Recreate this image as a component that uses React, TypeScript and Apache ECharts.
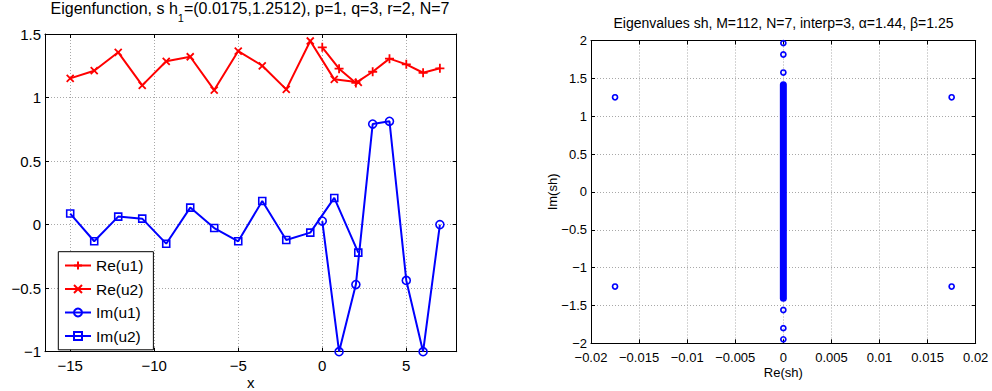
import React, { useEffect, useRef } from 'react';
import * as echarts from 'echarts';

// ---------- Left plot data ----------
const xU1 = [0, 1, 2, 3, 4, 5, 6, 7];
const reU1 = [1.395, 1.227, 1.115, 1.203, 1.306, 1.261, 1.195, 1.23];
const imU1 = [0.028, -1.0, -0.472, 0.791, 0.813, -0.439, -1.0, 0.0];
const xU2 = [-15, -13.571, -12.143, -10.714, -9.286, -7.857, -6.429, -5, -3.571, -2.143, -0.714, 0.714, 2.143];
const reU2 = [1.151, 1.211, 1.356, 1.096, 1.285, 1.321, 1.059, 1.366, 1.25, 1.064, 1.445, 1.143, 1.12];
const imU2 = [0.087, -0.131, 0.063, 0.047, -0.15, 0.134, -0.027, -0.131, 0.186, -0.121, -0.063, 0.21, -0.22];
const leftXTicks = [-15, -10, -5, 0, 5];
const leftYTicks = [-1, -0.5, 0, 0.5, 1, 1.5];

// ---------- Right plot data ----------
const reSh = [-0.0175, 0.0175, -0.0175, 0.0175, 0, 0, 0, 0, 0, 0];
const imSh = [1.25, 1.25, -1.25, -1.25, 1.966, 1.815, 1.577, -1.56, -1.8, -1.947];
// dense cluster of eigenvalues on the imaginary axis (extent)
const bandRe = [0, 0];
const bandIm = [-1.405, 1.414];
const rightXTicks = [-0.02, -0.015, -0.01, -0.005, 0, 0.005, 0.01, 0.015, 0.02];
const rightYTicks = [-2, -1.5, -1, -0.5, 0, 0.5, 1, 1.5, 2];

const FONT = 'Liberation Sans, Arial, Helvetica, sans-serif';
const RED = '#ff0000';
const BLUE = '#0000ff';

const fmt = (v: number) => (v < 0 ? '\u2212' + String(Math.abs(v)) : String(v));

const zip = (xs: number[], ys: number[]) => xs.map((x, i) => [x, ys[i]]);

function axis(opts: {
  dim: 'x' | 'y';
  grid: number;
  min: number;
  max: number;
  ticks: number[];
  mirror?: boolean;
  fontSize: number;
  margin: number;
  lineHeight?: number;
  name?: string;
  nameGap?: number;
}) {
  const { dim, grid, min, max, ticks, mirror, fontSize, margin, lineHeight, name, nameGap } = opts;
  return {
    type: 'value',
    gridIndex: grid,
    position: dim === 'x' ? (mirror ? 'top' : 'bottom') : mirror ? 'right' : 'left',
    min,
    max,
    name: name || '',
    nameLocation: 'middle',
    nameGap: nameGap || 0,
    nameMoveOverlap: false,
    nameTextStyle: { fontFamily: FONT, fontSize, color: '#000' },
    axisLine: { show: true, onZero: false, lineStyle: { color: '#000', width: 1 } },
    axisTick: { show: true, inside: true, length: 4, customValues: ticks, lineStyle: { color: '#000' } },
    axisLabel: {
      show: !mirror,
      customValues: ticks,
      formatter: fmt,
      fontFamily: FONT,
      fontSize,
      lineHeight: lineHeight || fontSize,
      color: '#000',
      margin,
    },
    splitLine: mirror
      ? { show: false }
      : { show: true, lineStyle: { color: '#a8a8a8', type: [1, 2], width: 1 } },
  };
}

export default function App() {
  const ref = useRef<HTMLDivElement>(null);
  useEffect(() => {
    if (!ref.current) return;
    const chart = echarts.init(ref.current, undefined, { renderer: 'svg' });
    const option: any = {
      animation: false,
      backgroundColor: '#fff',
      grid: [
        { left: 45, top: 34, width: 411.7, height: 317.7, outerBoundsMode: 'none', containLabel: false },
        { left: 591, top: 40.5, width: 384.7, height: 302.8, outerBoundsMode: 'none', containLabel: false },
      ],
      xAxis: [
        axis({ dim: 'x', grid: 0, min: -16.5, max: 8, ticks: leftXTicks, fontSize: 15, margin: 6, name: 'x', nameGap: 23 }),
        axis({ dim: 'x', grid: 0, min: -16.5, max: 8, ticks: leftXTicks, fontSize: 15, margin: 6, mirror: true }),
        axis({ dim: 'x', grid: 1, min: -0.02, max: 0.02, ticks: rightXTicks, fontSize: 13, margin: 9, lineHeight: 11, name: 'Re(sh)', nameGap: 22.5 }),
        axis({ dim: 'x', grid: 1, min: -0.02, max: 0.02, ticks: rightXTicks, fontSize: 13, margin: 9, mirror: true }),
      ],
      yAxis: [
        axis({ dim: 'y', grid: 0, min: -1, max: 1.5, ticks: leftYTicks, fontSize: 15, margin: 4 }),
        axis({ dim: 'y', grid: 0, min: -1, max: 1.5, ticks: leftYTicks, fontSize: 15, margin: 4, mirror: true }),
        axis({ dim: 'y', grid: 1, min: -2, max: 2, ticks: rightYTicks, fontSize: 13, margin: 4, lineHeight: 10, name: 'Im(sh)', nameGap: 32 }),
        axis({ dim: 'y', grid: 1, min: -2, max: 2, ticks: rightYTicks, fontSize: 13, margin: 4, mirror: true }),
      ],
      legend: {
        orient: 'vertical',
        left: 58.3,
        top: 251.7,
        padding: [5.8, 10, 5.8, 5.7],
        itemWidth: 26,
        itemHeight: 10,
        itemGap: 7.5,
        backgroundColor: '#fff',
        borderColor: '#000',
        borderWidth: 1,
        borderRadius: 0,
        textStyle: { fontFamily: FONT, fontSize: 15.5, color: '#000' },
        data: ['Re(u1)', 'Re(u2)', 'Im(u1)', 'Im(u2)'],
      },
      graphic: [
        {
          type: 'text',
          x: 250,
          y: 0,
          style: {
            text: '{a|Eigenfunction, s h}{s|1}{a|=(0.0175,1.2512), p=1, q=3, r=2, N=7}',
            align: 'center',
            textAlign: 'center',
            verticalAlign: 'top',
            textVerticalAlign: 'top',
            fill: '#000',
            rich: {
              a: { fontFamily: FONT, fontSize: 16, lineHeight: 16, verticalAlign: 'top', fill: '#000' },
              s: { fontFamily: FONT, fontSize: 11, lineHeight: 11, verticalAlign: 'top', padding: [12, 0, 0, 0], fill: '#000' },
            },
          },
        },
        {
          type: 'text',
          x: 783.5,
          y: 16,
          style: {
            text: 'Eigenvalues sh, M=112, N=7, interp=3, \u03b1=1.44, \u03b2=1.25',
            align: 'center',
            textAlign: 'center',
            verticalAlign: 'top',
            textVerticalAlign: 'top',
            font: `14px ${FONT}`,
            fill: '#000',
          },
        },
      ],
      series: [
        {
          name: 'Re(u1)',
          type: 'line',
          xAxisIndex: 0,
          yAxisIndex: 0,
          data: zip(xU1, reU1),
          symbol: 'path://M0,5L10,5M5,0L5,10',
          symbolSize: 9,
          showAllSymbol: true,
          lineStyle: { color: RED, width: 2 },
          itemStyle: { color: RED, borderColor: RED, borderWidth: 1.8 },
        },
        {
          name: 'Re(u2)',
          type: 'line',
          xAxisIndex: 0,
          yAxisIndex: 0,
          data: zip(xU2, reU2),
          symbol: 'path://M0,0L10,10M10,0L0,10',
          symbolSize: 7,
          showAllSymbol: true,
          lineStyle: { color: RED, width: 2 },
          itemStyle: { color: RED, borderColor: RED, borderWidth: 1.8 },
        },
        {
          name: 'Im(u1)',
          type: 'line',
          xAxisIndex: 0,
          yAxisIndex: 0,
          data: zip(xU1, imU1),
          symbol: 'circle',
          symbolSize: 8,
          showAllSymbol: true,
          lineStyle: { color: BLUE, width: 2 },
          itemStyle: { color: 'rgba(0,0,0,0)', borderColor: BLUE, borderWidth: 1.6 },
        },
        {
          name: 'Im(u2)',
          type: 'line',
          xAxisIndex: 0,
          yAxisIndex: 0,
          data: zip(xU2, imU2),
          symbol: 'rect',
          symbolSize: 7,
          showAllSymbol: true,
          lineStyle: { color: BLUE, width: 2 },
          itemStyle: { color: 'rgba(0,0,0,0)', borderColor: BLUE, borderWidth: 1.6 },
        },
        {
          name: 'dense',
          type: 'line',
          xAxisIndex: 2,
          yAxisIndex: 2,
          data: zip(bandRe, bandIm),
          showSymbol: false,
          symbol: 'none',
          lineStyle: { color: BLUE, width: 7, cap: 'round' },
        },
        {
          name: 'eig',
          type: 'scatter',
          xAxisIndex: 2,
          yAxisIndex: 2,
          data: zip(reSh, imSh),
          symbol: 'circle',
          symbolSize: 5,
          itemStyle: { color: 'rgba(0,0,0,0)', borderColor: BLUE, borderWidth: 1.7, opacity: 1 },
        },
      ],
    };
    chart.setOption(option);
    return () => chart.dispose();
  }, []);
  return (
    <div
      ref={ref}
      style={{ position: 'absolute', left: 0, top: 0, width: 992, height: 391, background: '#fff' }}
    />
  );
}
